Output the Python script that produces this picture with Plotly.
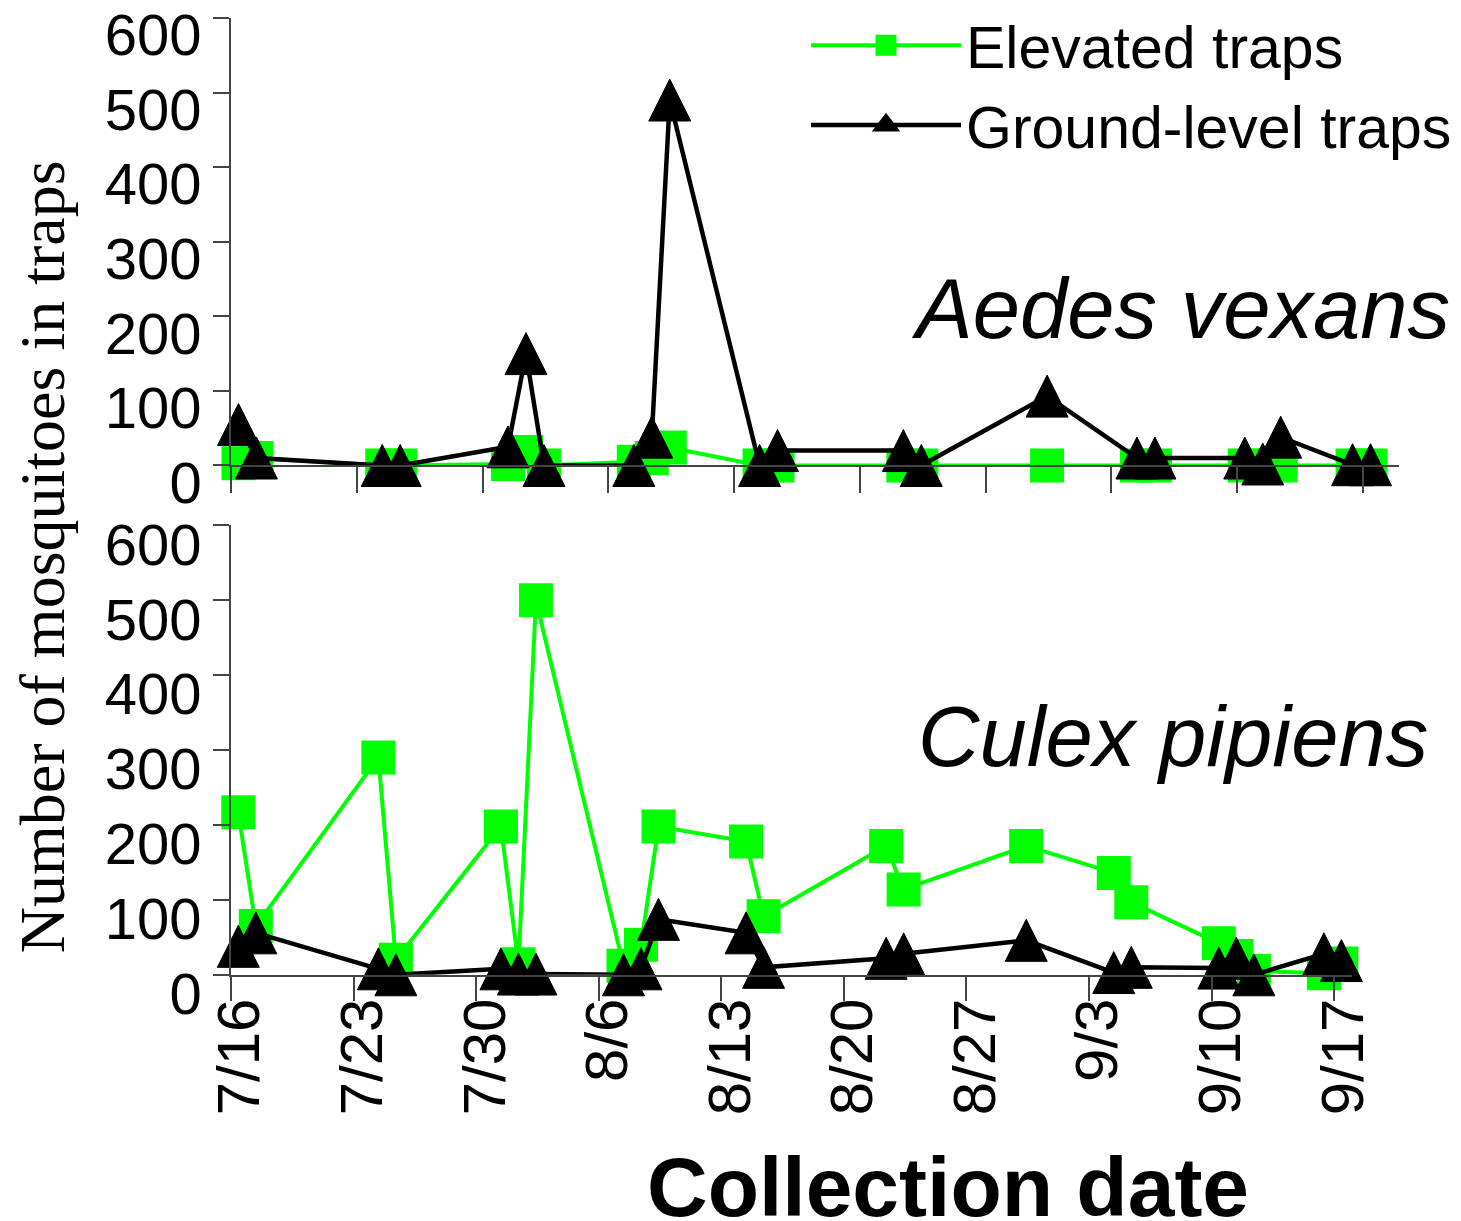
import plotly.graph_objects as go

# ---------------- data ----------------
YEAR = "2002"
collection_dates = ["07-16", "07-17", "07-24", "07-25", "07-31", "08-01", "08-02",
                    "08-07", "08-08", "08-09", "08-14", "08-15", "08-22", "08-23",
                    "08-30", "09-04", "09-05", "09-10", "09-11", "09-12", "09-16", "09-17"]
collection_time = "10:00"

aedes_elevated = [3, 10, 0, 0, 2, 18, 0, 5, 10, 24, 0, 0, 0, 0, 0, 0, 0, 0, 0, 0, 0, 0]
aedes_ground = [55, 10, 0, 0, 25, 150, 0, 0, 38, 490, 0, 20, 20, 0, 93, 10, 10, 10, 2, 38, 1, 1]

culex_elevated = [217, 65, 290, 20, 198, 14, 500, 12, 40, 198, 178, 78, 172, 114, 172, 136, 97, 42, 25, 5, 2, 15]
culex_ground = [38, 56, 8, 0, 8, 1, 1, 0, 8, 74, 56, 10, 22, 28, 46, 3, 10, 9, 22, 0, 28, 19]

week_ticks = ["07-16", "07-23", "07-30", "08-06", "08-13", "08-20", "08-27", "09-03", "09-10", "09-17"]
week_labels = ["7/16", "7/23", "7/30", "8/6", "8/13", "8/20", "8/27", "9/3", "9/10", "9/17"]
y_ticks = [0, 100, 200, 300, 400, 500, 600]

series_names = ["Elevated traps", "Ground-level traps"]
panel_titles = ["Aedes vexans", "Culex pipiens"]
x_title = "Collection date"
y_title = "Number of mosquitoes in traps"

# ---------------- helpers ----------------
xs = [f"{YEAR}-{d} {collection_time}" for d in collection_dates]
tickdates = [f"{YEAR}-{d}" for d in week_ticks]

W, H = 1461, 1221
GREEN = "#00FF00"
SANS = "Liberation Sans, Arial, sans-serif"
SERIF = "Liberation Serif, Times New Roman, serif"

square = dict(symbol="square", size=34, color=GREEN, line=dict(width=0))
# upward triangle centred on the point (arrow shape rotated, shifted by its half height)
tri = dict(symbol="arrow-down", angle=180, standoff=21, size=42, color="black",
           line=dict(width=1, color="black"))

fig = go.Figure()
panels = [("x", "y", aedes_elevated, aedes_ground),
          ("x2", "y2", culex_elevated, culex_ground)]
for xa, ya, elev, grd in panels:
    fig.add_trace(go.Scatter(x=xs, y=elev, mode="lines+markers", name=series_names[0],
                             line=dict(color=GREEN, width=4), marker=square,
                             xaxis=xa, yaxis=ya, cliponaxis=False, showlegend=False))
    fig.add_trace(go.Scatter(x=xs, y=grd, mode="lines+markers", name=series_names[1],
                             line=dict(color="black", width=4.5), marker=tri,
                             xaxis=xa, yaxis=ya, cliponaxis=False, showlegend=False))

# legend entries (no data of their own)
fig.add_trace(go.Scatter(x=[None], y=[None], mode="lines+markers", name=series_names[0],
                         line=dict(color=GREEN, width=4),
                         marker=dict(symbol="square", size=16, color=GREEN,
                                     line=dict(width=5, color=GREEN))))
fig.add_trace(go.Scatter(x=[None], y=[None], mode="lines+markers", name=series_names[1],
                         line=dict(color="black", width=4.5),
                         marker=dict(symbol="triangle-up", size=16, color="black",
                                     line=dict(width=5, color="black"))))

axis_line = dict(showline=True, linecolor="#444", linewidth=1.5, ticks="outside",
                 tickcolor="#444", tickwidth=1.5, showgrid=False, zeroline=False)

fig.update_layout(
    width=W, height=H,
    margin=dict(l=0, r=0, t=0, b=0),
    paper_bgcolor="white", plot_bgcolor="white",
    font=dict(family=SANS, color="black"),
    xaxis=dict(domain=[231 / W, 1399 / W], type="date",
               range=[f"{YEAR}-07-16", f"{YEAR}-09-19"],
               tickvals=tickdates, showticklabels=False, ticklen=26,
               anchor="y", **axis_line),
    xaxis2=dict(domain=[231 / W, 1351.6 / W], type="date",
                range=[f"{YEAR}-07-16", f"{YEAR}-09-18"],
                tickvals=tickdates, ticktext=week_labels, tickangle=-90,
                tickfont=dict(size=60, family=SANS, color="black"), ticklen=24,
                ticklabelshift=9, ticklabelstandoff=-26, ticklabeloverflow="allow",
                anchor="y2", automargin=False, **axis_line),
    yaxis=dict(domain=[1 - 463 / H, 1 - 14 / H], range=[0, 600], tickvals=y_ticks,
               tickfont=dict(size=58, family=SANS, color="black"), ticklen=16,
               ticklabelshift=17, ticklabeloverflow="allow",
               anchor="x", automargin=False, **axis_line),
    yaxis2=dict(domain=[1 - 974 / H, 1 - 523 / H], range=[0, 600], tickvals=y_ticks,
                tickfont=dict(size=58, family=SANS, color="black"), ticklen=16,
                ticklabelshift=19, ticklabeloverflow="allow",
                anchor="x2", automargin=False, **axis_line),
    legend=dict(x=806 / W, xanchor="left", y=1.003, yanchor="top", bgcolor="rgba(0,0,0,0)",
                font=dict(size=59, family=SANS, color="black"), itemwidth=150,
                tracegroupgap=0),
    annotations=[
        dict(text=f"<i>{panel_titles[0]}</i>", xref="paper", yref="paper",
             x=1452 / W, y=1 - 305 / H, xanchor="right", yanchor="middle",
             showarrow=False, font=dict(size=85, family=SANS)),
        dict(text=f"<i>{panel_titles[1]}</i>", xref="paper", yref="paper",
             x=1430 / W, y=1 - 735 / H, xanchor="right", yanchor="middle",
             showarrow=False, font=dict(size=85, family=SANS)),
        dict(text=f"<b>{x_title}</b>", xref="paper", yref="paper",
             x=948 / W, y=1 - 1187 / H, xanchor="center", yanchor="middle",
             showarrow=False, font=dict(size=84, family=SANS)),
        dict(text=y_title, xref="paper", yref="paper", textangle=-90,
             x=42 / W, y=1 - 555 / H, xanchor="center", yanchor="middle",
             showarrow=False, font=dict(size=64, family=SERIF)),
    ],
)

fig.write_html("out.html", config={"displayModeBar": False},
               post_script="document.body.style.margin='0px';")
